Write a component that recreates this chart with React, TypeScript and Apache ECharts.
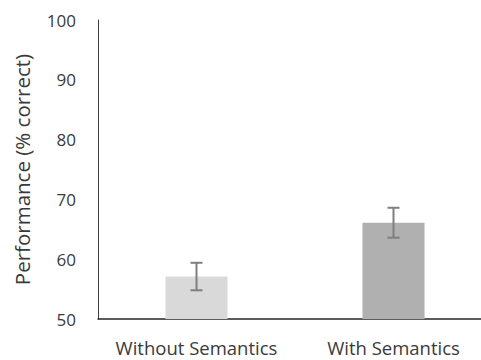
import React, { useEffect, useRef } from "react";
import * as echarts from "echarts";

const categories = ["Without Semantics", "With Semantics"];
const means = [57.1, 66.1];
const errors = [2.3, 2.5];
const barColors = ["#d9d9d9", "#b0b0b0"];
const yTicks = { min: 50, max: 100, interval: 10 };

export default function App() {
  const ref = useRef<HTMLDivElement>(null);
  useEffect(() => {
    if (!ref.current) return;
    const chart = echarts.init(ref.current, null, { renderer: "svg" });
    const font = "Open Sans";
    const textColor = "#3a3a3a";
    chart.setOption({
      animation: false,
      grid: { left: 98, top: 20, bottom: 41, right: 8 },
      xAxis: {
        type: "category",
        data: categories,
        axisTick: { show: false },
        axisLine: { lineStyle: { color: "#262626", width: 1.5 } },
        axisLabel: { color: textColor, fontFamily: font, fontSize: 18.5, margin: 19, interval: 0 },
      },
      yAxis: {
        type: "value",
        min: yTicks.min,
        max: yTicks.max,
        interval: yTicks.interval,
        splitLine: { show: false },
        axisTick: { show: false },
        axisLine: { show: true, lineStyle: { color: "#404040", width: 1 } },
        axisLabel: { color: textColor, fontFamily: font, fontSize: 17, margin: 22 },
        name: "Performance (% correct)",
        nameLocation: "middle",
        nameGap: 66,
        nameTextStyle: { color: textColor, fontFamily: font, fontSize: 20.5 },
      },
      series: [
        {
          type: "bar",
          barWidth: "31.5%",
          data: means.map((v, i) => ({ value: v, itemStyle: { color: barColors[i] } })),
        },
        {
          type: "custom",
          data: means.map((m, i) => [i, m - errors[i], m + errors[i]]),
          renderItem: (params: any, api: any) => {
            const x = api.value(0);
            const lo = api.coord([x, api.value(1)]);
            const hi = api.coord([x, api.value(2)]);
            const cap = 6;
            const style = { stroke: "#7f7f7f", lineWidth: 2 };
            return {
              type: "group",
              children: [
                { type: "line", shape: { x1: lo[0], y1: lo[1], x2: hi[0], y2: hi[1] }, style },
                { type: "line", shape: { x1: lo[0] - cap, y1: lo[1], x2: lo[0] + cap, y2: lo[1] }, style },
                { type: "line", shape: { x1: hi[0] - cap, y1: hi[1], x2: hi[0] + cap, y2: hi[1] }, style },
              ],
            };
          },
          z: 5,
        },
      ],
    });
    return () => chart.dispose();
  }, []);
  return (
    <div
      style={{ position: "fixed", left: 0, top: 0, width: 481, height: 360, overflow: "hidden", background: "#fff" }}
    >
      <div ref={ref} style={{ width: 500, height: 360 }} />
    </div>
  );
}
